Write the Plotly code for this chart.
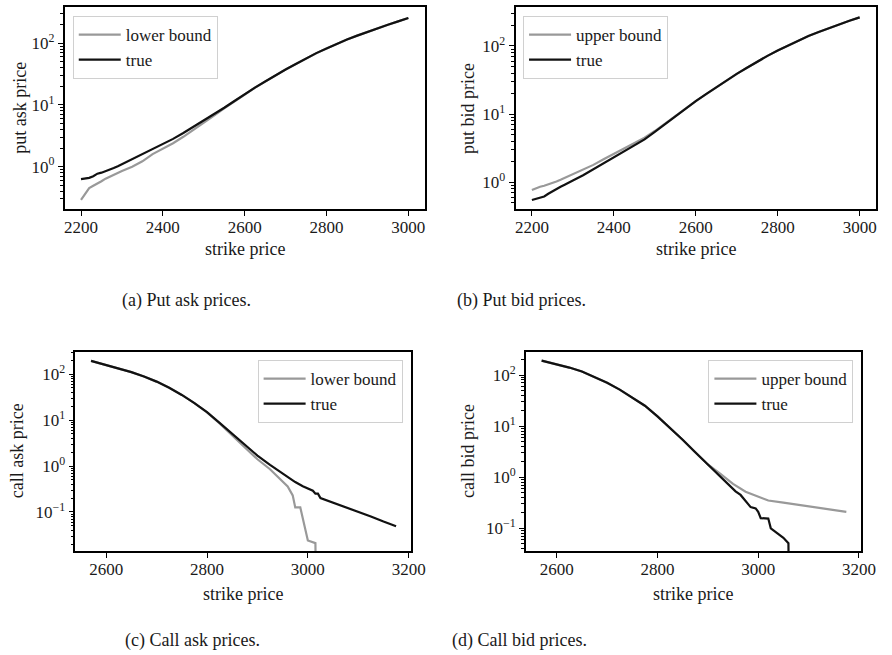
import plotly.graph_objects as go

# ---------------- data ----------------
# (a) put ask
put_strike = [2200, 2210, 2220, 2230, 2240, 2250, 2260, 2270, 2280, 2290, 2300, 2325, 2350, 2375,
              2400, 2425, 2450, 2475, 2500, 2525, 2550, 2575, 2600, 2625, 2650, 2675, 2700, 2725,
              2750, 2775, 2800, 2825, 2850, 2875, 2900, 2925, 2950, 2975, 3000]
put_ask_true = [0.63, 0.64, 0.66, 0.70, 0.77, 0.80, 0.84, 0.88, 0.95, 1.02, 1.10, 1.32, 1.58, 1.93,
                2.34, 2.82, 3.51, 4.42, 5.56, 7.0, 9.02, 11.6, 15.0, 19.1, 24.0, 30.2, 37.6, 46.2,
                56.9, 69.2, 82.2, 97.7, 115, 133, 153, 176, 200, 226, 257]
put_ask_lower = [0.29, 0.37, 0.45, 0.49, 0.53, 0.58, 0.64, 0.69, 0.74, 0.79, 0.85, 1.0, 1.22, 1.6,
                 1.93, 2.4, 3.05, 3.95, 5.1, 6.75, 8.85, 11.5, 14.9, 19.0, 23.9, 30.1, 37.5, 46.1,
                 56.8, 69.1, 82.1, 97.6, 115, 133, 153, 176, 200, 226, 257]

# (b) put bid
put_bid_true = [0.55, 0.57, 0.59, 0.62, 0.68, 0.74, 0.80, 0.86, 0.92, 1.00, 1.06, 1.27, 1.55, 1.93,
                2.37, 2.88, 3.43, 4.27, 5.5, 7.16, 9.33, 12.0, 15.5, 19.7, 24.8, 31.3, 38.9, 47.9,
                58.9, 71.6, 86.1, 102, 120, 140, 160, 183, 207, 234, 263]
put_bid_upper = [0.77, 0.82, 0.86, 0.89, 0.93, 0.98, 1.03, 1.09, 1.16, 1.24, 1.31, 1.52, 1.80, 2.18,
                 2.60, 3.12, 3.70, 4.50, 5.65, 7.2, 9.4, 12.05, 15.55, 19.7, 24.8, 31.3, 38.9, 47.9,
                 58.9, 71.6, 86.1, 102, 120, 140, 160, 183, 207, 234, 263]

# (c) call ask
call_ask_strike = [2570, 2600, 2625, 2650, 2675, 2700, 2725, 2750, 2775, 2800, 2825, 2850, 2875, 2900,
                   2925, 2950, 2975, 2990, 3000, 3010, 3015, 3020, 3025, 3050, 3075, 3100, 3125, 3150, 3175]
call_ask_true = [193, 157, 132, 110, 88.1, 68.4, 50.1, 35.1, 23.4, 14.8, 8.71, 4.95, 2.82, 1.68, 1.06,
                 0.676, 0.447, 0.363, 0.324, 0.29, 0.25, 0.25, 0.20, 0.16, 0.127, 0.10, 0.08, 0.062, 0.049]
call_ask_lb_strike = [2570, 2600, 2625, 2650, 2675, 2700, 2725, 2750, 2775, 2800, 2825, 2850, 2875, 2900,
                      2925, 2945, 2960, 2970, 2975, 2985, 2990, 3000, 3015, 3020]
call_ask_lower = [193, 157, 132, 110, 88.1, 68.4, 50.1, 35.1, 23.4, 14.6, 8.4, 4.6, 2.45, 1.4, 0.85,
                  0.52, 0.36, 0.23, 0.126, 0.126, 0.073, 0.024, 0.021, 0]

# (d) call bid
call_bid_strike = [2570, 2600, 2625, 2650, 2675, 2700, 2725, 2750, 2775, 2800, 2825, 2850, 2875, 2900,
                   2915, 2930, 2945, 2955, 2965, 2975, 2985, 2995, 3000, 3005, 3015, 3020, 3025, 3040,
                   3050, 3060, 3065]
call_bid_true = [191, 162, 140, 117, 91.2, 70.8, 51.9, 36.7, 25.1, 15.5, 9.33, 5.43, 3.09, 1.76, 1.26,
                 0.90, 0.66, 0.53, 0.45, 0.35, 0.26, 0.245, 0.21, 0.158, 0.155, 0.155, 0.10, 0.078,
                 0.065, 0.051, 0]
call_bid_ub_strike = [2570, 2600, 2625, 2650, 2675, 2700, 2725, 2750, 2775, 2800, 2825, 2850, 2875, 2900,
                      2925, 2950, 2975, 3000, 3020, 3050, 3100, 3150, 3175]
call_bid_upper = [191, 162, 140, 117, 91.2, 70.8, 51.9, 36.7, 25.1, 15.5, 9.33, 5.43, 3.09, 1.78, 1.16,
                  0.74, 0.52, 0.41, 0.35, 0.317, 0.269, 0.228, 0.21]

put_ticks = [2200, 2400, 2600, 2800, 3000]
call_ticks = [2600, 2800, 3000, 3200]

# ---------------- style ----------------
FONT = "Liberation Serif, DejaVu Serif, serif"
GRAY = "#999999"
BLACK = "#111111"
LW = 2.2
TXT = "#1a1a1a"


def clip(vals):
    # mimic matplotlib's log-scale clipping of non-positive values
    return [v if v > 0 else 1e-6 for v in vals]


fig = go.Figure()

panels = [
    ("x", "y", "legend", put_strike, put_ask_lower, "lower bound", put_strike, put_ask_true),
    ("x2", "y2", "legend2", put_strike, put_bid_upper, "upper bound", put_strike, put_bid_true),
    ("x3", "y3", "legend3", call_ask_lb_strike, call_ask_lower, "lower bound", call_ask_strike, call_ask_true),
    ("x4", "y4", "legend4", call_bid_ub_strike, call_bid_upper, "upper bound", call_bid_strike, call_bid_true),
]

for xa, ya, lg, sb, b, bname, st, t in panels:
    fig.add_trace(go.Scatter(x=sb, y=clip(b), mode="lines", name=bname, xaxis=xa, yaxis=ya,
                             legend=lg, line=dict(color=GRAY, width=LW)))
    fig.add_trace(go.Scatter(x=st, y=clip(t), mode="lines", name="true", xaxis=xa, yaxis=ya,
                             legend=lg, line=dict(color=BLACK, width=LW)))

dom = {
    "a": dict(x=[0.0737, 0.4843], y=[0.6809, 0.9889]),
    "b": dict(x=[0.5878, 0.9989], y=[0.6809, 0.9889]),
    "c": dict(x=[0.0860, 0.4683], y=[0.1588, 0.4630]),
    "d": dict(x=[0.5998, 0.9817], y=[0.1588, 0.4630]),
}

minor_vals = [m * 10.0 ** k for k in range(-3, 4) for m in range(2, 10)]
maj_vals = [0.1, 1, 10, 100]
maj_text = ["10<sup>−1</sup>", "10<sup>0</sup>", "10<sup>1</sup>", "10<sup>2</sup>"]

common_axis = dict(showline=True, linecolor="black", linewidth=1.8, mirror=True,
                   ticks="outside", ticklen=5, tickwidth=1.2, tickcolor="black",
                   showgrid=False, zeroline=False,
                   tickfont=dict(family=FONT, size=17, color=TXT))


def xaxis(domain, anchor, rng, tickvals):
    d = dict(common_axis)
    d.update(domain=domain, anchor=anchor, range=rng, tickmode="array", tickvals=tickvals,
             ticktext=[str(v) for v in tickvals], ticklabelstandoff=-3)
    return d


def yaxis(domain, anchor, rng):
    d = dict(common_axis)
    d.update(domain=domain, anchor=anchor, type="log", range=rng, tickmode="array",
             tickvals=maj_vals, ticktext=maj_text,
             minor=dict(ticks="outside", ticklen=3, tickwidth=0.9, tickcolor="black",
                        tickmode="array", tickvals=minor_vals, showgrid=False))
    return d


fig.update_layout(
    xaxis=xaxis(dom["a"]["x"], "y", [2160, 3040], put_ticks),
    yaxis=yaxis(dom["a"]["y"], "x", [-0.686, 2.583]),
    xaxis2=xaxis(dom["b"]["x"], "y2", [2160, 3040], put_ticks),
    yaxis2=yaxis(dom["b"]["y"], "x2", [-0.392, 2.568]),
    xaxis3=xaxis(dom["c"]["x"], "y3", [2539, 3204], call_ticks),
    yaxis3=yaxis(dom["c"]["y"], "x3", [-1.848, 2.485]),
    xaxis4=xaxis(dom["d"]["x"], "y4", [2539, 3204], call_ticks),
    yaxis4=yaxis(dom["d"]["y"], "x4", [-1.444, 2.456]),
)

leg_common = dict(font=dict(family=FONT, size=17, color=TXT), bgcolor="rgba(255,255,255,0.8)",
                  bordercolor="#d0d0d0", borderwidth=1, tracegroupgap=0, itemwidth=42)
fig.update_layout(
    legend=dict(leg_common, x=74 / 892, y=1 - 16 / 655, xanchor="left", yanchor="top"),
    legend2=dict(leg_common, x=532 / 892, y=1 - 16 / 655, xanchor="left", yanchor="top"),
    legend3=dict(leg_common, x=409.5 / 892, y=1 - 360 / 655, xanchor="right", yanchor="top"),
    legend4=dict(leg_common, x=868 / 892, y=1 - 360 / 655, xanchor="right", yanchor="top"),
)

ann = []


def add_text(text, xpx, ypx, angle=0, size=18):
    ann.append(dict(text=text, x=xpx / 892, y=1 - ypx / 655, xref="paper", yref="paper",
                    showarrow=False, xanchor="center", yanchor="middle", textangle=angle,
                    font=dict(family=FONT, size=size, color=TXT)))


add_text("strike price", 249, 249)
add_text("strike price", 708, 249)
add_text("strike price", 247, 594)
add_text("strike price", 705, 594)
add_text("put ask price", 20, 108, -90)
add_text("put bid price", 476, 108, -90)
add_text("call ask price", 17.5, 451, -90)
add_text("call bid price", 476, 451, -90)
add_text("(a) Put ask prices.", 190, 301)
add_text("(b) Put bid prices.", 530, 301)
add_text("(c) Call ask prices.", 196, 640)
add_text("(d) Call bid prices.", 528, 640)

fig.update_layout(
    annotations=ann,
    width=892, height=655,
    margin=dict(l=0, r=0, t=0, b=0),
    paper_bgcolor="white", plot_bgcolor="white",
    font=dict(family=FONT, color=TXT),
    showlegend=True,
)

fig.write_html("out.html")
